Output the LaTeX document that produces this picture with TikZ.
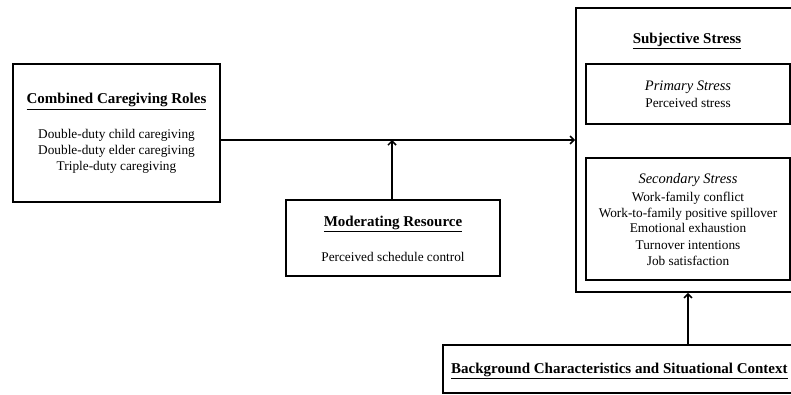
\documentclass[tikz,border=0pt]{standalone}
\usepackage{fontspec}
\setmainfont{Liberation Serif}
\usetikzlibrary{arrows.meta}
\tikzset{
  box/.style={draw=black, line width=1.8pt, rectangle, inner sep=0pt},
  ttl/.style={font=\fontsize{15}{18}\selectfont\bfseries, inner sep=0pt, anchor=base},
  txt/.style={font=\fontsize{13.3}{16}\selectfont, inner sep=0pt, anchor=base},
  itl/.style={font=\fontsize{14.5}{16}\selectfont\itshape, inner sep=0pt, anchor=base},
  conn/.style={line width=1.8pt, -{Straight Barb[length=4pt,width=8pt,line width=1.5pt]}}
}
\begin{document}
\begin{tikzpicture}[x=1pt,y=-1pt]
\useasboundingbox (0,0) rectangle (791,395);
\fill[white] (0,0) rectangle (791,395);
% boxes
\node[box, minimum width=207pt, minimum height=138pt] (comb) at (116.5,133) {};
\node[box, minimum width=230pt, minimum height=284pt] (subj) at (691,150) {};
\node[box, minimum width=204pt, minimum height=60pt] (prim) at (688,94) {};
\node[box, minimum width=204pt, minimum height=122pt] (sec) at (688,219) {};
\node[box, minimum width=214pt, minimum height=76pt] (mod) at (393,238) {};
\node[box, minimum width=370pt, minimum height=48pt] (bg) at (628,369) {};
% texts
\node[ttl] (combt) at (116.5,104) {\underline{Combined Caregiving Roles}};
\node[txt] (c1) at (116.5,139) {Double-duty child caregiving};
\node[txt] (c2) at (116.5,155) {Double-duty elder caregiving};
\node[txt] (c3) at (116.5,171) {Triple-duty caregiving};
\node[ttl] (subjt) at (687,44) {\underline{Subjective Stress}};
\node[itl] (pt) at (688,91) {Primary Stress};
\node[txt] (p1) at (688,108) {Perceived stress};
\node[itl] (st) at (688,184) {Secondary Stress};
\node[txt] (s1) at (688,201) {Work-family conflict};
\node[txt] (s2) at (688,217) {Work-to-family positive spillover};
\node[txt] (s3) at (688,233) {Emotional exhaustion};
\node[txt] (s4) at (688,249) {Turnover intentions};
\node[txt] (s5) at (688,265) {Job satisfaction};
\node[ttl] (modt) at (393,226) {\underline{Moderating Resource}};
\node[txt] (m1) at (393,261) {Perceived schedule control};
\node[ttl, anchor=base west] (bgt) at (451,373) {\underline{Background Characteristics and Situational Context}};
% connectors
\coordinate (j) at (392,140);
\draw[conn] (comb.east |- j) -- (subj.west |- j);
\draw[conn] (mod.north -| j) -- (j);
\coordinate (k) at (688,0);
\draw[conn] (bg.north -| k) -- (subj.south -| k);
\end{tikzpicture}
\end{document}
